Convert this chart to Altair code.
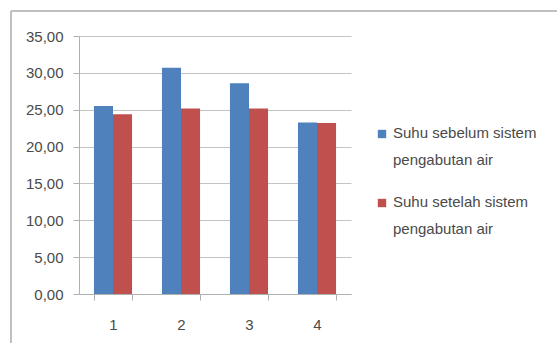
import altair as alt
import pandas as pd

categories = ["1", "2", "3", "4"]
series_names = ["Suhu sebelum sistem|pengabutan air", "Suhu setelah sistem|pengabutan air"]
before = [25.5, 30.7, 28.6, 23.25]
after = [24.4, 25.15, 25.15, 23.2]
colors = ["#4F81BD", "#C0504D"]

rows = []
for i, c in enumerate(categories):
    rows.append({"cat": c, "series": series_names[0], "value": before[i]})
    rows.append({"cat": c, "series": series_names[1], "value": after[i]})
df = pd.DataFrame(rows)
legend_df = pd.DataFrame({"series": series_names})

FONT = "Liberation Sans"
TXT = "#4a4a4a"
color_scale = alt.Scale(domain=series_names, range=colors)

bars = alt.Chart(df).mark_bar(clip=False).encode(
    x=alt.X("cat:N", sort=categories, title=None,
            scale=alt.Scale(paddingInner=0.44, paddingOuter=0.22),
            axis=alt.Axis(labelAngle=0, tickBand="extent", tickSize=6, tickColor="#b0b0b0",
                          domainColor="#b0b0b0", labelPadding=17, labelFontSize=15,
                          labelColor=TXT, labelFont=FONT, grid=False)),
    xOffset=alt.XOffset("series:N", sort=series_names),
    y=alt.Y("value:Q", title=None,
            scale=alt.Scale(domain=[0, 35], nice=False),
            axis=alt.Axis(values=[0, 5, 10, 15, 20, 25, 30, 35], tickSize=6,
                          tickColor="#b0b0b0", domainColor="#b0b0b0",
                          gridColor="#c4c4c4", labelPadding=10, labelFontSize=15,
                          labelColor=TXT, labelFont=FONT,
                          labelExpr="replace(format(datum.value, '.2f'), '.', ',')")),
    color=alt.Color("series:N", sort=series_names, scale=color_scale, legend=None),
)

leg_y = alt.Y("series:N", sort=series_names, axis=None, title=None,
              scale=alt.Scale(type="point", range=[98, 167], padding=0))

leg_sym = alt.Chart(legend_df).mark_square(size=70, opacity=1).encode(
    x=alt.value(303), y=leg_y,
    color=alt.Color("series:N", sort=series_names, scale=color_scale, legend=None),
)
leg_txt = alt.Chart(legend_df).mark_text(
    align="left", baseline="top", dy=-8, lineHeight=27, fontSize=15, font=FONT, color=TXT
).transform_calculate(lab="split(datum.series, '|')").encode(
    x=alt.value(314), y=leg_y, text="lab:N",
)

frame_top = alt.Chart(pd.DataFrame({"k": [0]})).mark_rule(color="#c0c0c0", strokeWidth=2).encode(
    x=alt.value(-68), x2=alt.value(480), y=alt.value(-25))
frame_left = alt.Chart(pd.DataFrame({"k": [0]})).mark_rule(color="#c0c0c0", strokeWidth=2).encode(
    x=alt.value(-68), y=alt.value(-25), y2=alt.value(320))

chart = alt.layer(frame_top, frame_left, bars, leg_sym, leg_txt).resolve_scale(
    y="independent"
).properties(
    width=272, height=258,
    autosize=alt.AutoSizeParams(type="none"),
    padding={"left": 79, "top": 36, "right": 206, "bottom": 49},
    background="white",
).configure_view(stroke=None)

chart.save("out.html", embed_options={"renderer": "svg", "actions": False})
